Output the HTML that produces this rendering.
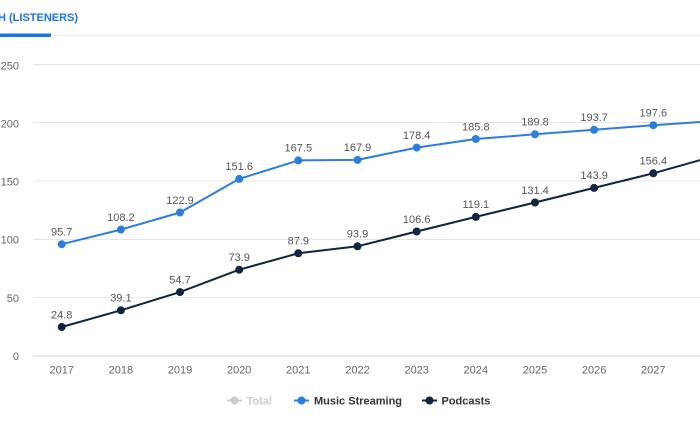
<!DOCTYPE html>
<html>
<head>
<meta charset="utf-8">
<style>
html,body{margin:0;padding:0;background:#fff;}
body{width:700px;height:441px;overflow:hidden;position:relative;}
svg{position:absolute;left:0;top:0;}
text{font-family:"Liberation Sans",sans-serif;}
</style>
</head>
<body>
<svg width="700" height="441" viewBox="0 0 700 441" xmlns="http://www.w3.org/2000/svg">
  <!-- header tab -->
  <text x="-2" y="21" font-size="11" font-weight="bold" fill="#1a73e8">H (LISTENERS)</text>
  <line x1="0" y1="35.5" x2="700" y2="35.5" stroke="#e8f1fb" stroke-width="1"/>
  <rect x="0" y="33.5" width="51" height="3.5" fill="#1a73e8"/>

  <!-- gridlines -->
  <g stroke="#e6e6e6" stroke-width="1">
    <line x1="33" y1="64.5" x2="700" y2="64.5"/>
    <line x1="33" y1="122.5" x2="700" y2="122.5"/>
    <line x1="33" y1="181" x2="700" y2="181"/>
    <line x1="33" y1="239.5" x2="700" y2="239.5"/>
    <line x1="33" y1="297.5" x2="700" y2="297.5"/>
  </g>
  <line x1="33" y1="356" x2="700" y2="356" stroke="#ccd6eb" stroke-width="1"/>

  <!-- y labels -->
  <g font-size="11" fill="#666" text-anchor="end">
    <text x="19" y="69.5">250</text>
    <text x="19" y="127.5">200</text>
    <text x="19" y="185.5">150</text>
    <text x="19" y="243.5">100</text>
    <text x="19" y="302">50</text>
    <text x="19" y="360">0</text>
  </g>

  <!-- x labels -->
  <g font-size="11" fill="#666" text-anchor="middle">
    <text x="61.7" y="373.5">2017</text>
    <text x="120.9" y="373.5">2018</text>
    <text x="180" y="373.5">2019</text>
    <text x="239.2" y="373.5">2020</text>
    <text x="298.3" y="373.5">2021</text>
    <text x="357.5" y="373.5">2022</text>
    <text x="416.7" y="373.5">2023</text>
    <text x="475.8" y="373.5">2024</text>
    <text x="535" y="373.5">2025</text>
    <text x="594.1" y="373.5">2026</text>
    <text x="653.3" y="373.5">2027</text>
  </g>

  <!-- Music Streaming -->
  <polyline fill="none" stroke="#2b7de0" stroke-width="2" stroke-linejoin="round"
    points="61.7,244.2 120.9,229.6 180,212.5 239.2,178.9 298.3,160.4 357.5,159.9 416.7,147.6 475.8,139 535,134.3 594.1,129.8 653.3,125.2 712.5,121.2"/>
  <g fill="#2b7de0">
    <circle cx="61.7" cy="244.2" r="4"/>
    <circle cx="120.9" cy="229.6" r="4"/>
    <circle cx="180" cy="212.5" r="4"/>
    <circle cx="239.2" cy="178.9" r="4"/>
    <circle cx="298.3" cy="160.4" r="4"/>
    <circle cx="357.5" cy="159.9" r="4"/>
    <circle cx="416.7" cy="147.6" r="4"/>
    <circle cx="475.8" cy="139" r="4"/>
    <circle cx="535" cy="134.3" r="4"/>
    <circle cx="594.1" cy="129.8" r="4"/>
    <circle cx="653.3" cy="125.2" r="4"/>
    <circle cx="712.5" cy="121.2" r="4"/>
  </g>

  <!-- Podcasts -->
  <polyline fill="none" stroke="#0f2540" stroke-width="2" stroke-linejoin="round"
    points="61.7,327 120.9,310.3 180,292.1 239.2,269.7 298.3,253.3 357.5,246.3 416.7,231.5 475.8,216.9 535,202.5 594.1,187.9 653.3,173.3 712.5,156.6"/>
  <g fill="#0f2540">
    <circle cx="61.7" cy="327" r="4"/>
    <circle cx="120.9" cy="310.3" r="4"/>
    <circle cx="180" cy="292.1" r="4"/>
    <circle cx="239.2" cy="269.7" r="4"/>
    <circle cx="298.3" cy="253.3" r="4"/>
    <circle cx="357.5" cy="246.3" r="4"/>
    <circle cx="416.7" cy="231.5" r="4"/>
    <circle cx="475.8" cy="216.9" r="4"/>
    <circle cx="535" cy="202.5" r="4"/>
    <circle cx="594.1" cy="187.9" r="4"/>
    <circle cx="653.3" cy="173.3" r="4"/>
    <circle cx="712.5" cy="156.6" r="4"/>
  </g>

  <!-- data labels -->
  <g font-size="11" fill="#555" text-anchor="middle">
    <text x="61.7" y="235.5">95.7</text>
    <text x="120.9" y="220.8">108.2</text>
    <text x="180" y="203.8">122.9</text>
    <text x="239.2" y="170.2">151.6</text>
    <text x="298.3" y="151.7">167.5</text>
    <text x="357.5" y="151.2">167.9</text>
    <text x="416.7" y="138.9">178.4</text>
    <text x="475.8" y="130.3">185.8</text>
    <text x="535" y="125.6">189.8</text>
    <text x="594.1" y="121.1">193.7</text>
    <text x="653.3" y="116.5">197.6</text>

    <text x="61.7" y="318.3">24.8</text>
    <text x="120.9" y="301.6">39.1</text>
    <text x="180" y="283.4">54.7</text>
    <text x="239.2" y="261">73.9</text>
    <text x="298.3" y="244.6">87.9</text>
    <text x="357.5" y="237.6">93.9</text>
    <text x="416.7" y="222.8">106.6</text>
    <text x="475.8" y="208.2">119.1</text>
    <text x="535" y="193.8">131.4</text>
    <text x="594.1" y="179.2">143.9</text>
    <text x="653.3" y="164.6">156.4</text>
  </g>

  <!-- legend -->
  <g>
    <line x1="227" y1="400.5" x2="242" y2="400.5" stroke="#cccccc" stroke-width="2"/>
    <circle cx="234.5" cy="400.5" r="4" fill="#cccccc"/>
    <text x="246.5" y="404.5" font-size="11" font-weight="bold" fill="#cccccc">Total</text>

    <line x1="294" y1="400.5" x2="309" y2="400.5" stroke="#2b7de0" stroke-width="2"/>
    <circle cx="301.5" cy="400.5" r="4" fill="#2b7de0"/>
    <text x="314" y="404.5" font-size="11" font-weight="bold" fill="#333">Music Streaming</text>

    <line x1="422" y1="400.5" x2="437" y2="400.5" stroke="#0f2540" stroke-width="2"/>
    <circle cx="429.5" cy="400.5" r="4" fill="#0f2540"/>
    <text x="441.5" y="404.5" font-size="11" font-weight="bold" fill="#333">Podcasts</text>
  </g>
</svg>
</body>
</html>
